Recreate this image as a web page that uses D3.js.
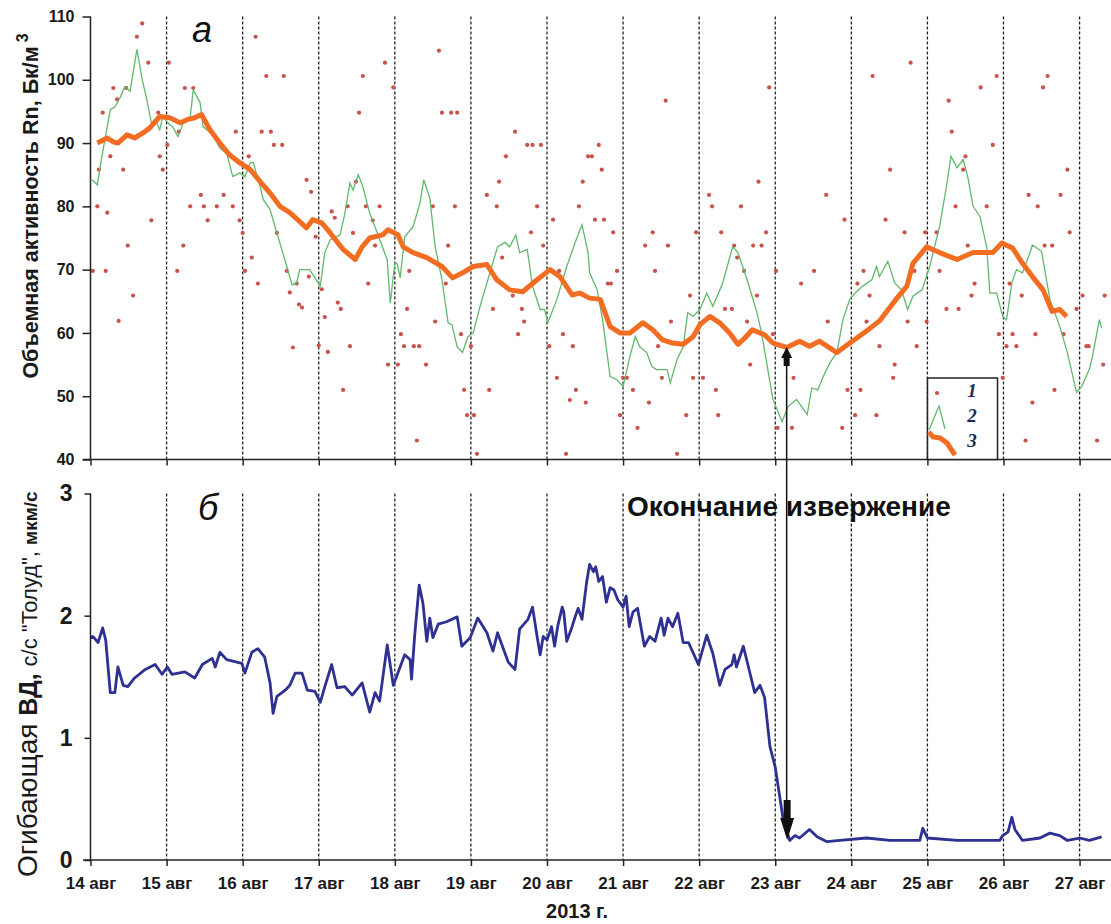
<!DOCTYPE html>
<html>
<head>
  <meta charset="utf-8">
  <title>Rn и ВД, август 2013</title>
  <script src="https://d3js.org/d3.v7.min.js" charset="utf-8"></script>
  <style>
    body { margin: 0; background: #fff; }
    svg { display: block; font-family: "Liberation Sans", Arial, sans-serif; }
  </style>
</head>
<body>
<script>
// дни от 14 авг 00:00
var dayLabels = ["14 авг","15 авг","16 авг","17 авг","18 авг","19 авг","20 авг",
                 "21 авг","22 авг","23 авг","24 авг","25 авг","26 авг","27 авг"];
var rnTicks = [40,50,60,70,80,90,100,110];
var vdTicks = [0,1,2,3];

// 1 - отдельные измерения Rn
var dotT = [0.03,0.09,0.11,0.16,0.20,0.22,0.26,0.30,0.35,0.37,0.43,0.47,0.49,0.56,0.61,0.68,0.76,0.80,0.89,0.91,
  0.95,1.01,1.03,1.14,1.16,1.22,1.24,1.31,1.35,1.45,1.49,1.54,1.66,1.75,1.87,1.91,1.96,2.00,2.03,2.08,
  2.12,2.17,2.20,2.25,2.31,2.37,2.41,2.45,2.52,2.54,2.58,2.62,2.66,2.71,2.74,2.78,2.84,2.87,2.90,2.96,
  3.00,3.04,3.08,3.12,3.17,3.21,3.25,3.29,3.32,3.38,3.41,3.45,3.49,3.53,3.58,3.62,3.65,3.71,3.74,3.80,
  3.87,3.91,3.98,4.04,4.08,4.12,4.16,4.19,4.25,4.29,4.32,4.41,4.50,4.53,4.58,4.62,4.67,4.70,4.74,4.79,
  4.82,4.87,4.91,4.95,5.00,5.04,5.08,5.21,5.24,5.29,5.34,5.37,5.41,5.46,5.55,5.58,5.62,5.67,5.70,5.74,
  5.79,5.81,5.87,5.92,5.95,6.03,6.08,6.13,6.16,6.21,6.25,6.30,6.34,6.38,6.42,6.47,6.51,6.54,6.59,6.63,
  6.68,6.72,6.75,6.80,6.84,6.87,6.92,6.96,7.00,7.05,7.13,7.19,7.29,7.34,7.39,7.42,7.46,7.51,7.56,7.59,
  7.63,7.71,7.83,7.88,7.92,7.96,8.05,8.13,8.17,8.22,8.25,8.29,8.34,8.43,8.46,8.50,8.55,8.59,8.63,8.67,
  8.71,8.76,8.78,8.82,8.88,8.92,8.97,9.01,9.03,9.22,9.24,9.34,9.51,9.67,9.69,9.88,9.91,9.95,10.05,10.08,
  10.12,10.16,10.20,10.24,10.28,10.33,10.37,10.45,10.51,10.55,10.57,10.70,10.74,10.78,10.83,10.86,10.97,10.99,11.12,11.16,
  11.25,11.28,11.32,11.37,11.41,11.47,11.50,11.53,11.58,11.62,11.70,11.78,11.86,11.91,11.94,11.99,12.04,12.08,12.12,12.17,
  12.24,12.29,12.33,12.38,12.42,12.45,12.52,12.54,12.58,12.64,12.67,12.75,12.79,12.84,12.87,12.96,13.04,13.09,13.12,13.23,
  13.31,13.33];
var dotV = [69.8,80.0,85.8,94.8,69.8,79.0,87.9,98.7,96.9,61.9,85.8,98.7,73.8,65.9,106.8,108.9,102.7,77.8,94.8,87.9,
  85.8,89.7,102.7,69.8,91.8,73.8,98.7,80.0,98.7,81.8,80.0,77.8,80.0,81.8,80.0,91.8,77.8,75.8,69.8,87.9,
  71.9,106.8,67.8,91.8,100.6,91.8,89.7,75.8,89.7,100.6,69.8,66.4,57.7,67.8,64.5,64.0,84.2,68.9,82.3,75.2,
  58.0,66.9,62.5,57.0,79.2,78.2,64.8,63.8,51.0,80.0,57.9,75.8,83.9,94.8,100.6,80.0,67.8,77.8,73.8,80.0,
  102.7,55.0,98.8,55.0,59.8,57.9,63.8,69.8,57.9,43.0,57.9,55.0,80.0,61.8,104.6,94.8,67.8,73.8,94.8,80.0,
  94.8,59.8,51.0,47.0,57.9,47.0,40.9,81.8,51.0,63.8,80.0,83.9,71.9,87.9,65.9,91.8,59.8,63.8,61.8,89.7,
  75.9,89.7,80.0,89.7,73.8,57.9,77.9,52.9,69.8,59.8,40.9,49.4,57.9,51.0,80.0,83.9,49.0,87.9,87.9,77.9,
  89.7,85.8,77.9,67.8,67.8,75.9,69.8,47.0,52.9,52.9,51.0,45.0,73.8,49.0,75.9,69.8,57.9,52.9,96.7,73.8,
  61.8,40.9,47.0,65.9,52.9,75.9,52.9,81.8,80.0,51.0,47.0,75.9,63.8,63.8,73.8,71.9,80.0,69.8,61.8,55.0,
  73.8,65.9,83.9,73.8,75.9,98.8,59.8,69.8,45.0,45.0,52.9,67.8,69.8,81.8,61.8,45.0,77.9,51.0,47.0,67.8,
  51.0,69.8,61.8,65.9,100.6,47.0,57.9,77.9,85.8,52.9,55.0,75.9,61.8,102.7,69.8,57.9,75.9,61.8,75.9,69.8,
  63.8,96.7,91.8,80.0,63.8,85.8,87.9,73.8,65.9,67.8,98.8,80.0,89.7,100.6,59.8,52.9,57.9,67.8,59.8,57.9,
  65.9,43.0,81.8,49.0,59.8,80.0,98.8,73.8,100.6,73.8,51.0,81.8,59.8,85.8,75.9,63.8,65.9,57.9,57.9,43.0,
  55.0,65.9];

// 2 - скользящее по короткому окну
var rawT = [0.02,0.09,0.15,0.26,0.32,0.39,0.45,0.52,0.61,0.68,0.74,0.81,0.87,0.91,0.95,1.04,1.08,1.15,1.22,1.31,
  1.35,1.44,1.48,1.61,1.70,1.79,1.87,1.96,2.03,2.10,2.14,2.23,2.27,2.36,2.45,2.58,2.65,2.71,2.75,2.88,
  3.02,3.08,3.15,3.28,3.34,3.41,3.45,3.52,3.58,3.67,3.77,3.90,3.94,4.00,4.03,4.07,4.13,4.24,4.33,4.38,
  4.46,4.53,4.62,4.70,4.75,4.82,4.89,4.96,5.03,5.12,5.25,5.35,5.45,5.51,5.59,5.64,5.74,5.81,5.91,5.97,
  6.01,6.13,6.26,6.37,6.46,6.54,6.56,6.66,6.73,6.83,6.92,7.00,7.09,7.16,7.22,7.31,7.38,7.44,7.58,7.62,
  7.71,7.79,7.85,7.92,8.01,8.10,8.18,8.31,8.44,8.51,8.63,8.76,8.82,8.97,9.09,9.17,9.28,9.42,9.48,9.56,
  9.63,9.72,9.81,9.89,9.98,10.05,10.15,10.27,10.33,10.37,10.48,10.57,10.66,10.74,10.81,10.93,11.03,11.16,11.25,11.31,
  11.39,11.47,11.53,11.60,11.69,11.78,11.82,11.91,11.99,12.04,12.11,12.17,12.25,12.35,12.38,12.50,12.61,12.74,12.84,12.96,
  13.03,13.13,13.17,13.26,13.29];
var rawV = [84.2,83.4,87.9,95.3,95.7,97.2,98.9,98.2,104.8,100.0,96.9,92.6,93.2,92.1,94.2,92.9,92.6,91.0,93.2,94.0,
  98.4,96.4,92.6,91.3,89.2,88.4,84.7,85.3,84.7,86.9,86.9,83.1,81.1,79.5,75.8,70.5,67.6,67.9,70.0,70.0,
  67.4,72.7,74.7,75.5,78.7,83.7,82.6,85.0,83.1,78.9,75.8,71.5,64.7,71.0,71.0,68.7,75.2,76.8,80.5,84.2,
  81.3,73.6,68.4,61.6,61.3,57.8,56.9,59.4,60.0,64.2,69.5,73.6,74.3,73.6,75.5,72.7,73.2,67.4,63.7,63.7,
  61.6,65.3,70.5,74.3,77.1,72.7,69.5,66.8,62.1,53.1,52.6,51.5,56.3,59.4,57.8,56.9,54.7,54.2,54.2,52.1,
  55.8,57.8,63.2,62.6,63.7,66.3,64.2,67.9,73.6,72.7,68.4,63.2,60.0,49.5,46.0,48.4,49.5,47.1,51.3,51.0,
  53.1,55.3,56.9,62.1,65.3,66.3,67.4,68.4,70.5,68.9,71.3,67.9,66.8,63.7,65.8,66.8,70.5,76.8,83.1,87.9,
  86.1,87.4,84.7,80.0,78.4,73.6,66.3,66.3,62.6,62.1,67.9,70.0,69.5,72.7,73.9,72.9,65.3,61.0,56.9,50.6,
  51.6,54.3,56.3,62.1,60.8];

// 3 - сглаженная кривая
var avgT = [0.09,0.22,0.30,0.36,0.48,0.58,0.69,0.78,0.91,1.04,1.18,1.27,1.37,1.46,1.57,1.70,1.83,1.96,2.10,2.23,
  2.36,2.49,2.62,2.75,2.84,2.92,3.04,3.15,3.32,3.48,3.57,3.67,3.84,3.91,4.04,4.11,4.24,4.42,4.62,4.76,
  4.89,5.03,5.21,5.34,5.51,5.68,5.87,6.04,6.17,6.33,6.43,6.56,6.70,6.83,6.96,7.09,7.26,7.39,7.52,7.65,
  7.79,7.92,8.01,8.14,8.27,8.40,8.51,8.60,8.70,8.86,8.97,9.15,9.32,9.45,9.58,9.81,9.98,10.20,10.37,10.60,
  10.73,10.81,10.99,11.16,11.39,11.60,11.86,11.98,12.12,12.25,12.38,12.52,12.64,12.74,12.83];
var avgV = [90.0,90.8,90.2,90.0,91.3,90.8,91.6,92.4,94.2,94.0,93.2,93.7,94.0,94.5,92.1,90.0,88.1,86.9,85.8,83.9,
  82.1,80.0,79.0,77.6,76.6,77.9,77.4,75.8,73.2,71.6,73.6,75.0,75.5,76.3,75.5,73.6,72.7,71.9,70.5,68.7,
  69.5,70.5,70.8,68.4,66.8,66.5,68.4,70.0,68.9,66.0,66.3,65.5,65.3,61.0,60.0,60.0,61.6,60.5,58.9,58.4,
  58.2,59.4,61.3,62.6,61.6,60.0,58.2,59.2,60.5,59.7,58.4,57.7,58.7,57.9,58.7,56.9,58.4,60.3,61.9,65.5,
  67.4,71.0,73.6,72.7,71.6,72.7,72.7,74.2,73.4,71.0,68.9,66.8,63.4,63.7,62.6];

// б - огибающая ВД
var vdT = [0.00,0.03,0.10,0.16,0.20,0.26,0.32,0.36,0.43,0.49,0.58,0.72,0.85,0.94,1.01,1.07,1.24,1.37,1.47,1.60,
  1.64,1.70,1.79,1.99,2.03,2.12,2.20,2.29,2.36,2.40,2.45,2.56,2.62,2.69,2.78,2.85,2.95,3.02,3.08,3.17,
  3.24,3.34,3.44,3.57,3.67,3.74,3.80,3.90,3.98,4.04,4.13,4.20,4.22,4.26,4.32,4.37,4.42,4.46,4.50,4.57,
  4.68,4.82,4.88,4.99,5.09,5.21,5.29,5.35,5.49,5.58,5.64,5.75,5.81,5.87,
  5.91,5.95,6.00,6.06,6.10,6.14,6.20,6.22,6.26,6.33,6.37,6.41,6.46,6.52,6.56,6.61,6.64,6.68,6.73,6.78,
  6.83,6.88,6.93,7.00,7.04,7.08,7.13,7.19,7.28,7.35,7.42,7.50,7.54,7.59,7.65,7.72,7.79,7.86,7.99,8.10,
  8.18,8.27,8.34,8.43,8.46,8.49,8.58,8.64,8.73,8.80,8.86,
  8.93,9.00,9.10,9.19,9.26,9.32,9.45,9.55,9.68,9.85,10.20,10.51,10.90,10.94,11.00,11.39,11.95,11.99,12.06,12.11,
  12.15,12.25,12.48,12.61,12.74,12.84,13.00,13.13,13.29];
var vdV = [1.82,1.83,1.78,1.90,1.80,1.37,1.37,1.58,1.43,1.42,1.49,1.56,1.60,1.52,1.58,1.52,1.54,1.49,1.60,1.65,
  1.58,1.70,1.64,1.61,1.53,1.70,1.73,1.66,1.45,1.20,1.34,1.39,1.43,1.53,1.53,1.39,1.38,1.29,1.42,1.60,
  1.41,1.42,1.35,1.45,1.21,1.37,1.30,1.76,1.43,1.53,1.68,1.64,1.48,1.83,2.25,2.10,1.79,1.98,1.82,1.93,
  1.95,1.99,1.75,1.82,1.98,1.86,1.71,1.86,1.62,1.56,1.89,1.97,2.07,1.83,
  1.68,1.83,1.80,1.91,1.75,1.91,2.07,2.03,1.79,1.91,1.99,2.06,1.97,2.27,2.42,2.36,2.40,2.28,2.32,2.11,
  2.23,2.21,2.13,2.07,2.16,1.91,2.03,2.06,1.75,1.83,1.79,1.98,1.84,1.98,1.91,2.02,1.78,1.78,1.60,1.84,
  1.69,1.43,1.56,1.60,1.68,1.58,1.75,1.60,1.37,1.43,1.33,
  0.93,0.76,0.35,0.16,0.20,0.18,0.25,0.19,0.15,0.16,0.18,0.16,0.16,0.26,0.18,0.16,0.16,0.20,0.23,0.35,
  0.25,0.16,0.18,0.22,0.20,0.16,0.18,0.16,0.19];

var W = 1111, H = 924;
var svg = d3.select("body").append("svg").attr("width", W).attr("height", H);
svg.append("rect").attr("width", W).attr("height", H).attr("fill", "#fff");

var x = d3.scaleLinear().domain([0, 13.4]).range([90.5, 1110]);
var yRn = d3.scaleLinear().domain([40, 110]).range([459.5, 16.5]);
var yVd = d3.scaleLinear().domain([0, 3]).range([860, 493.5]);

var ink = "#222";

// вертикальные пунктиры по суткам
var days = d3.range(1, 14);
[[yRn, 110, 40], [yVd, 3, 0]].forEach(function(p) {
  svg.append("g").selectAll("line").data(days).enter().append("line")
    .attr("x1", function(d){ return x(d); }).attr("x2", function(d){ return x(d); })
    .attr("y1", p[0](p[1])).attr("y2", p[0](p[2]))
    .attr("stroke", ink).attr("stroke-width", 1.3).attr("stroke-dasharray", "3,2");
});

// панель а
var gA = svg.append("g");
gA.selectAll("circle").data(d3.zip(dotT, dotV)).enter().append("circle")
  .attr("cx", function(d){ return x(d[0]); })
  .attr("cy", function(d){ return yRn(d[1]); })
  .attr("r", 2.1).attr("fill", "#c9524c");

var lineRn = d3.line().x(function(d){ return x(d[0]); }).y(function(d){ return yRn(d[1]); });
gA.append("path").attr("d", lineRn(d3.zip(rawT, rawV)))
  .attr("fill", "none").attr("stroke", "#62b86e").attr("stroke-width", 1.3);
gA.append("path").attr("d", lineRn(d3.zip(avgT, avgV)))
  .attr("fill", "none").attr("stroke", "#f26d21").attr("stroke-width", 5)
  .attr("stroke-linejoin", "round");

// панель б
var lineVd = d3.line().x(function(d){ return x(d[0]); }).y(function(d){ return yVd(d[1]); });
svg.append("path").attr("d", lineVd(d3.zip(vdT, vdV)))
  .attr("fill", "none").attr("stroke", "#2e3192").attr("stroke-width", 2.8)
  .attr("stroke-linejoin", "round");

// оси
function styleAxis(g, size) {
  g.select(".domain").remove();
  g.selectAll("line").attr("stroke", ink).attr("stroke-width", 1.5);
  g.selectAll("text").attr("fill", "#1a1a1a").attr("font-weight", "bold")
    .attr("font-size", size).attr("font-family", "Liberation Sans, Arial, sans-serif");
}
var axL1 = svg.append("g").attr("transform", "translate(90.5,0)")
  .call(d3.axisLeft(yRn).tickValues(rnTicks).tickSize(8).tickPadding(8).tickSizeOuter(0));
styleAxis(axL1, 16);
var axL2 = svg.append("g").attr("transform", "translate(90.5,0)")
  .call(d3.axisLeft(yVd).tickValues(vdTicks).tickSize(6).tickPadding(12).tickSizeOuter(0)
    .tickFormat(d3.format("d")));
styleAxis(axL2, 23);
var axB1 = svg.append("g").attr("transform", "translate(0,459.5)")
  .call(d3.axisBottom(x).tickValues(d3.range(0, 14)).tickSize(6).tickFormat(""));
styleAxis(axB1, 16);
var axB2 = svg.append("g").attr("transform", "translate(0,860)")
  .call(d3.axisBottom(x).tickValues(d3.range(0, 14)).tickSize(6).tickPadding(11)
    .tickFormat(function(i){ return dayLabels[i]; }));
styleAxis(axB2, 17);

// линии осей
[[yRn(110), yRn(40)], [yVd(3), yVd(0)]].forEach(function(r) {
  svg.append("line").attr("x1", 90.5).attr("x2", 90.5).attr("y1", r[0]).attr("y2", r[1])
    .attr("stroke", ink).attr("stroke-width", 1.5);
  svg.append("line").attr("x1", 83).attr("x2", W).attr("y1", r[1]).attr("y2", r[1])
    .attr("stroke", ink).attr("stroke-width", 1.5);
});

// подписи
svg.append("text").attr("x", 577).attr("y", 918).attr("text-anchor", "middle")
  .attr("font-size", 20).attr("font-weight", "bold").attr("fill", "#1a1a1a").text("2013 г.");

var tA = svg.append("text").attr("transform", "translate(38,206) rotate(-90)")
  .attr("text-anchor", "middle").attr("font-size", 21.5).attr("font-weight", "bold").attr("fill", "#1a1a1a");
tA.append("tspan").text("Объемная активность Rn, Бк/м");
tA.append("tspan").attr("dy", -10).attr("dx", 4).attr("font-size", 16).text("3");

var tB = svg.append("text").attr("transform", "translate(37,877) rotate(-90)")
  .attr("fill", "#1a1a1a");
tB.append("tspan").attr("font-size", 28).text("Огибающая ");
tB.append("tspan").attr("font-size", 25).attr("font-weight", "bold").text("ВД, ");
tB.append("tspan").attr("font-size", 22).text("с/с  ");
tB.append("tspan").attr("font-size", 22).text("\"Толуд\", ");
tB.append("tspan").attr("font-size", 19).attr("font-weight", "bold").text("мкм/с");

svg.append("text").attr("x", 192).attr("y", 42).attr("font-size", 36).attr("font-style", "italic")
  .attr("fill", "#111").text("а");
svg.append("text").attr("x", 198).attr("y", 520).attr("font-size", 36).attr("font-style", "italic")
  .attr("fill", "#111").text("б");

// окончание извержения
var xe = x(9.15);
svg.append("line").attr("x1", xe).attr("x2", xe).attr("y1", 360).attr("y2", 825)
  .attr("stroke", "#111").attr("stroke-width", 1.5);
svg.append("path").attr("fill", "#111")
  .attr("d", "M" + xe + ",347 l5.5,11 h-2.5 v8 h-6 v-8 h-2.5 Z");
svg.append("path").attr("fill", "#111")
  .attr("d", "M" + (xe - 3) + ",800 h7 v18 h3.5 l-7,22 l-7,-22 h3.5 Z");
svg.append("text").attr("x", 627).attr("y", 516).attr("font-size", 28).attr("font-weight", "bold")
  .attr("fill", "#111").text("Окончание извержение");

// легенда
var lg = svg.append("g");
lg.append("rect").attr("x", 927.5).attr("y", 378).attr("width", 70).attr("height", 81.5)
  .attr("fill", "#fff").attr("stroke", ink).attr("stroke-width", 1.5);
lg.append("circle").attr("cx", 937).attr("cy", 393).attr("r", 2.1).attr("fill", "#c9524c");
lg.append("path").attr("d", "M929,430 L939,406 L945,429")
  .attr("fill", "none").attr("stroke", "#62b86e").attr("stroke-width", 1.3);
lg.append("path").attr("d", "M929,432 L933,437 L940,438 L947,443 L955,455")
  .attr("fill", "none").attr("stroke", "#f26d21").attr("stroke-width", 5);
lg.selectAll("text").data(["1","2","3"]).enter().append("text")
  .attr("x", 972).attr("y", function(d, i){ return 397 + i * 25; })
  .attr("text-anchor", "middle").attr("font-family", "Liberation Serif, serif")
  .attr("font-style", "italic").attr("font-weight", "bold").attr("font-size", 19)
  .attr("fill", "#1f2a50").text(function(d){ return d; });
</script>
</body>
</html>
